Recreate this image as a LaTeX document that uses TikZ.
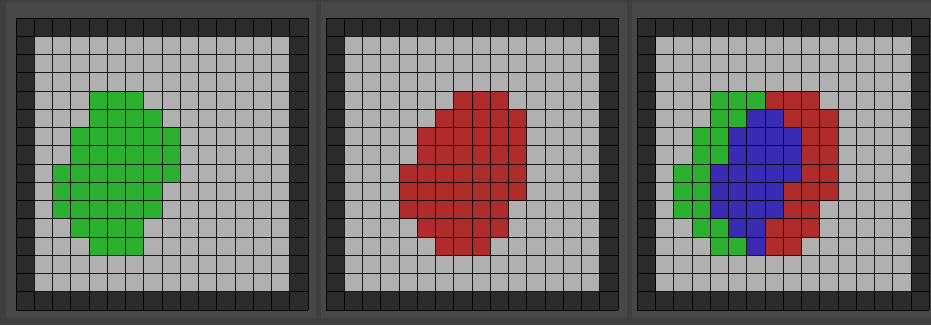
\documentclass[tikz,border=0pt]{standalone}
\definecolor{bgc}{HTML}{3F3F3F}
\definecolor{panelc}{HTML}{474747}
\definecolor{wallc}{HTML}{2B2B2B}
\definecolor{floorc}{HTML}{B0B0B0}
\definecolor{greenc}{HTML}{2BB02F}
\definecolor{redc}{HTML}{B02C2C}
\definecolor{bluec}{HTML}{3A2BB5}
\tikzset{
  gridline/.style={draw=black,line width=0.9pt,opacity=0.85},
  panelbg/.style={fill=panelc},
}
\begin{document}
\begin{tikzpicture}[x=1pt,y=-1pt]
\useasboundingbox (0,0) rectangle (931,325);
\fill[bgc] (0,0) rectangle (931,325);
\fill[panelbg] (6,2) rectangle (316,318);
\fill[panelbg] (321,2) rectangle (627,318);
\fill[panelbg] (632,2) rectangle (931,318);
\def\cs{18.25}
\foreach \px [count=\pn] in {16,326,637.3}{
  \begin{scope}[shift={(\px,18)}]
    \fill[wallc] (0,0) rectangle ({16*\cs},{16*\cs});
    \fill[floorc] (\cs,\cs) rectangle ({15*\cs},{15*\cs});
    \foreach \r/\ga/\gb/\ra/\rb in {4/4/6/7/9,5/4/7/6/10,6/3/8/5/10,7/3/8/5/10,8/2/8/4/10,9/2/7/4/10,10/2/7/4/9,11/3/6/5/9,12/4/6/6/8}{
      \ifnum\pn=1
        \fill[greenc] ({\ga*\cs},{\r*\cs}) rectangle ({(\gb+1)*\cs},{(\r+1)*\cs});
      \fi
      \ifnum\pn=2
        \fill[redc] ({\ra*\cs},{\r*\cs}) rectangle ({(\rb+1)*\cs},{(\r+1)*\cs});
      \fi
      \ifnum\pn=3
        \pgfmathtruncatemacro{\ba}{max(\ga,\ra)}
        \pgfmathtruncatemacro{\bb}{min(\gb,\rb)}
        \fill[greenc] ({\ga*\cs},{\r*\cs}) rectangle ({(\gb+1)*\cs},{(\r+1)*\cs});
        \fill[redc] ({\ra*\cs},{\r*\cs}) rectangle ({(\rb+1)*\cs},{(\r+1)*\cs});
        \ifnum\ba>\bb\else
          \fill[bluec] ({\ba*\cs},{\r*\cs}) rectangle ({(\bb+1)*\cs},{(\r+1)*\cs});
        \fi
      \fi
    }
    \foreach \i in {0,...,16}{
      \draw[gridline] ({\i*\cs},0) -- ({\i*\cs},{16*\cs});
      \draw[gridline] (0,{\i*\cs}) -- ({16*\cs},{\i*\cs});
    }
  \end{scope}
}
\end{tikzpicture}
\end{document}
